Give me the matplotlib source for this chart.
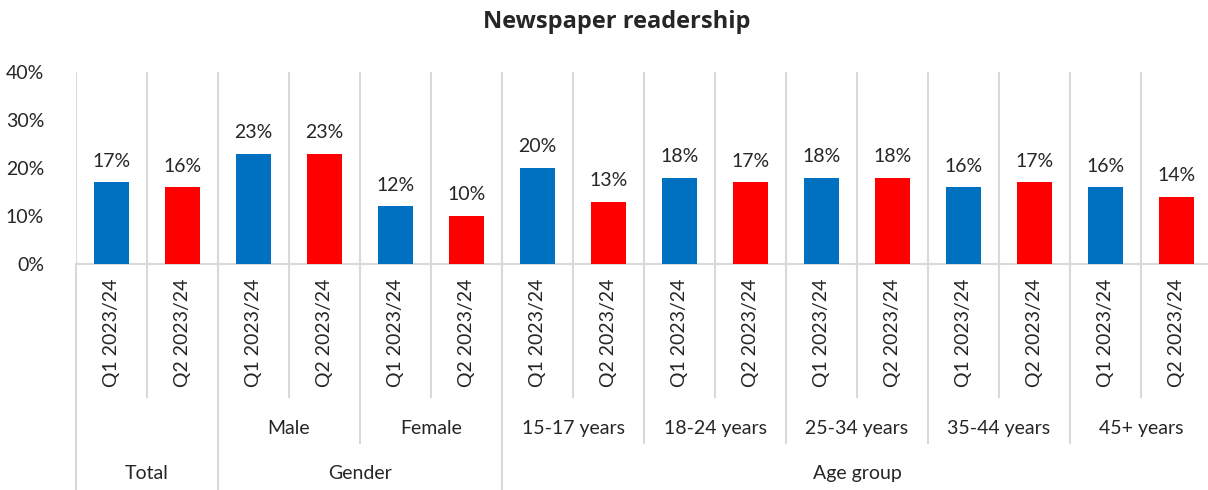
import numpy as np
import matplotlib.pyplot as plt
from matplotlib import transforms

# readership share (%) per breakdown, two quarters
groups = ['Total', 'Gender', 'Age group']
group_sizes = [1, 2, 5]  # number of subgroups inside each group
subgroups = ['', 'Male', 'Female', '15-17 years', '18-24 years', '25-34 years', '35-44 years', '45+ years']
periods = ['Q1 2023/24', 'Q2 2023/24']
q1 = [17, 23, 12, 20, 18, 18, 16, 16]
q2 = [16, 23, 10, 13, 17, 18, 17, 14]

plt.rcParams['font.family'] = ['Lato', 'DejaVu Sans']
W, H = 1208, 490
fig = plt.figure(figsize=(W / 100, H / 100), dpi=100)


def fy(px):
    # pixel row (from top) -> figure fraction
    return 1 - px / H


ax = fig.add_axes([76 / W, fy(264), 1136 / W, fy(72) - fy(264)])
text_col = '#262626'
grid_col = '#d9d9d9'
fs = 14

n = len(subgroups)
x1 = np.arange(n) * 2
x2 = x1 + 1
b1 = ax.bar(x1, q1, width=0.48, color='#0070c0', zorder=3)
b2 = ax.bar(x2, q2, width=0.48, color='#ff0000', zorder=3)
for bars, vals in ((b1, q1), (b2, q2)):
    ax.bar_label(bars, labels=[f'{v}%' for v in vals], padding=9, fontsize=fs, color=text_col)

ax.set_xlim(-0.5, 2 * n - 0.5)
ax.set_ylim(0, 40)
ax.set_yticks(range(0, 41, 10))
ax.set_yticklabels([f'{v}%' for v in range(0, 41, 10)], fontsize=fs, color=text_col)
ax.tick_params(axis='y', length=0, pad=23)
ax.set_xticks([])
for s in ['top', 'right', 'left']:
    ax.spines[s].set_visible(False)
ax.spines['bottom'].set_color(grid_col)
ax.spines['bottom'].set_linewidth(1.5)

# vertical separators inside the plot area
for b in np.arange(-0.5, 2 * n, 1.0):
    ax.axvline(b, color=grid_col, lw=1.5, zorder=1)

# multi-level category axis below the plot
tr = transforms.blended_transform_factory(ax.transData, fig.transFigure)
group_edges = np.cumsum([0] + group_sizes) * 2 - 0.5
sub_edges = np.arange(n + 1) * 2 - 0.5
for b in np.arange(-0.5, 2 * n, 1.0):
    if b in group_edges:
        bottom = 490
    elif b in sub_edges:
        bottom = 443
    else:
        bottom = 397
    ax.plot([b, b], [fy(264), fy(bottom)], transform=tr, color=grid_col, lw=1.5, clip_on=False)

for i in range(n):
    for k, p in enumerate(periods):
        ax.text(2 * i + k, fy(279), p, transform=tr, rotation=90, ha='center', va='top',
                fontsize=fs, color=text_col)
    if subgroups[i]:
        ax.text(2 * i + 0.5, fy(428), subgroups[i], transform=tr, ha='center', va='center',
                fontsize=fs, color=text_col)

for g, lo, hi in zip(groups, group_edges[:-1], group_edges[1:]):
    ax.text((lo + hi) / 2, fy(473), g, transform=tr, ha='center', va='center',
            fontsize=fs, color=text_col)

fig.text(617 / W, fy(22), 'Newspaper readership', ha='center', va='center',
         fontsize=17, fontweight='bold', color=text_col, family='Open Sans')

fig.savefig('out.png', dpi=100)
